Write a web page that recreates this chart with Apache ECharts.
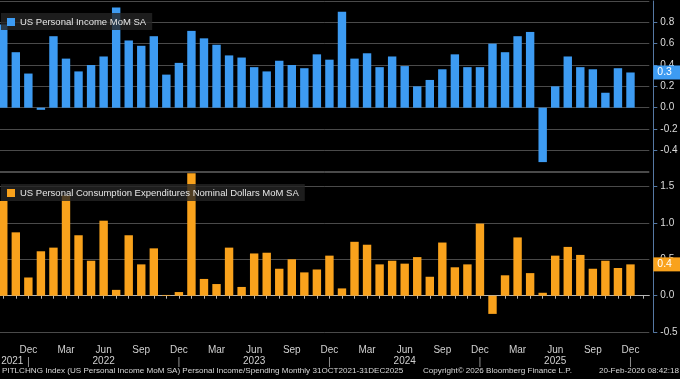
<!DOCTYPE html>
<html><head><meta charset="utf-8">
<script src="https://cdn.jsdelivr.net/npm/echarts@6/dist/echarts.min.js"></script>
<style>html,body{margin:0;padding:0;background:#000;}#c{width:680px;height:379px;}</style>
</head><body><div id="c"></div>
<script>
const categories = [
 '2021-10','2021-11','2021-12',
 '2022-01','2022-02','2022-03','2022-04','2022-05','2022-06','2022-07','2022-08','2022-09','2022-10','2022-11','2022-12',
 '2023-01','2023-02','2023-03','2023-04','2023-05','2023-06','2023-07','2023-08','2023-09','2023-10','2023-11','2023-12',
 '2024-01','2024-02','2024-03','2024-04','2024-05','2024-06','2024-07','2024-08','2024-09','2024-10','2024-11','2024-12',
 '2025-01','2025-02','2025-03','2025-04','2025-05','2025-06','2025-07','2025-08','2025-09','2025-10','2025-11','2025-12'
];
const incomeValues = [0.78,0.52,0.32,-0.02,0.67,0.46,0.34,0.40,0.48,0.94,0.63,0.58,0.67,0.31,0.42,0.72,0.65,0.59,0.49,0.47,0.38,0.34,0.44,0.40,0.37,0.50,0.45,0.90,0.46,0.51,0.38,0.48,0.39,0.20,0.26,0.36,0.50,0.38,0.38,0.60,0.52,0.67,0.71,-0.51,0.20,0.48,0.38,0.36,0.14,0.37,0.33];
const pceValues = [1.30,0.87,0.25,0.61,0.66,1.38,0.83,0.48,1.03,0.08,0.83,0.43,0.65,0.01,0.05,1.68,0.23,0.16,0.66,0.12,0.58,0.59,0.37,0.50,0.32,0.36,0.55,0.10,0.74,0.70,0.43,0.48,0.44,0.53,0.26,0.73,0.39,0.43,0.99,-0.25,0.28,0.80,0.31,0.04,0.55,0.67,0.56,0.37,0.48,0.38,0.43];
const monthTickLabels = {3:'Mar', 6:'Jun', 9:'Sep', 12:'Dec'};
const incomeName = 'US Personal Income MoM SA';
const pceName = 'US Personal Consumption Expenditures Nominal Dollars MoM SA';
const footerLeft = 'PITLCHNG Index (US Personal Income MoM SA) Personal Income/Spending Monthly 31OCT2021-31DEC2025';
const footerMid = 'Copyright\u00A9 2026 Bloomberg Finance L.P.';
const footerRight = '20-Feb-2026 08:42:18';

const FONT = '"Liberation Sans", Arial, sans-serif';
const BLUE = '#3d9bf2', ORANGE = '#f9a21c';
const gridColor = '#4a4a4a', axisBlue = '#5578a3';

function xLabel(value, index) {
  if (index >= categories.length) return '';
  const parts = categories[index].split('-');
  const y = parts[0], m = Number(parts[1]);
  if (index === 0) return '{m| }\n{p|' + y + '}';
  const name = monthTickLabels[m];
  if (!name) return '';
  if (m === 12) return '{m|' + name + '}\n{s||}';
  if (m === 6) return '{m|' + name + '}\n{y|' + y + '}';
  return '{m|' + name + '}';
}

const legendBase = {
  orient:'horizontal', icon:'rect', itemWidth:8, itemHeight:8, itemGap:0, itemTextGap:4,
  padding:[4,6,3,6], backgroundColor:'rgba(36,36,36,0.8)', selectedMode:false,
  textStyle:{color:'#e6e6e6', fontSize:9.5, fontFamily:FONT}
};
function tag(values, color) {
  const last = values[values.length-1];
  return {
    silent:true, symbol:['none','none'], animation:false,
    lineStyle:{color:'rgba(0,0,0,0)', width:0, type:'solid'},
    label:{show:true, position:'end', distance:4, formatter:last.toFixed(1),
      backgroundColor:color, color:'#fff', padding:[2,9,1,4], fontSize:10.5, fontFamily:FONT, opacity:1},
    data:[{yAxis:last}]
  };
}
const yLabel = {color:'#dcdcdc', fontSize:10, fontFamily:FONT, margin:7, formatter:v=>v.toFixed(1)};
const footStyle = {color:'#d8d8d8', fontSize:8.1, fontWeight:'normal', fontFamily:FONT};

const chart = echarts.init(document.getElementById('c'));
chart.setOption({
  backgroundColor:'#000',
  animation:false,
  textStyle:{fontFamily:FONT},
  title:[
    {text:footerLeft, left:2, top:367, padding:0, textStyle:footStyle},
    {text:footerMid, left:423, top:367, padding:0, textStyle:footStyle},
    {text:footerRight, right:1, top:367, padding:0, textStyle:footStyle}
  ],
  legend:[
    Object.assign({}, legendBase, {data:[incomeName], left:1, top:13}),
    Object.assign({}, legendBase, {data:[pceName], left:1, top:184})
  ],
  grid:[
    {left:-3, right:30.7, top:1, height:170.7, containLabel:false, outerBoundsMode:'none'},
    {left:-3, right:30.7, top:171.9, height:160.2, containLabel:false, outerBoundsMode:'none'}
  ],
  xAxis:[
    {type:'category', gridIndex:0, data:categories, max:categories.length, show:false},
    {type:'category', gridIndex:1, data:categories, max:categories.length, offset:8,
      axisLine:{show:true, lineStyle:{color:'#b5b5b5', width:1}},
      axisTick:{show:true, alignWithLabel:true, interval:0, length:3, lineStyle:{color:'#b5b5b5'}},
      axisLabel:{interval:0, formatter:xLabel, margin:5, color:'#d0d0d0', fontSize:10, lineHeight:11,
        rich:{
          m:{fontSize:10, lineHeight:11, color:'#d0d0d0', fontFamily:FONT},
          y:{fontSize:10, lineHeight:11, color:'#d0d0d0', fontFamily:FONT},
          p:{fontSize:10, lineHeight:11, color:'#d0d0d0', fontFamily:FONT, padding:[0,0,0,18]},
          s:{fontSize:11, lineHeight:11, color:'#9a9a9a', fontFamily:FONT}
        }},
      splitLine:{show:false}}
  ],
  yAxis:[
    {type:'value', gridIndex:0, position:'right', offset:4, min:-0.6, max:1.0, interval:0.2,
      axisLine:{show:true, lineStyle:{color:axisBlue}},
      axisTick:{show:true, length:4, lineStyle:{color:axisBlue}},
      axisLabel:Object.assign({showMinLabel:false, showMaxLabel:false}, yLabel),
      splitLine:{show:true, lineStyle:{color:gridColor, width:1}}},
    {type:'value', gridIndex:1, position:'right', offset:4, min:-0.5, max:1.7, interval:0.5,
      axisLine:{show:true, lineStyle:{color:axisBlue}},
      axisTick:{show:true, length:4, lineStyle:{color:axisBlue}},
      axisLabel:Object.assign({showMinLabel:true, showMaxLabel:false}, yLabel),
      splitLine:{show:true, lineStyle:{color:gridColor, width:1}}}
  ],
  series:[
    {name:incomeName, type:'bar', xAxisIndex:0, yAxisIndex:0, data:incomeValues,
      barCategoryGap:'33%', itemStyle:{color:BLUE}, markLine:tag(incomeValues, BLUE)},
    {name:pceName, type:'bar', xAxisIndex:1, yAxisIndex:1, data:pceValues,
      barCategoryGap:'33%', itemStyle:{color:ORANGE}, markLine:tag(pceValues, ORANGE)}
  ]
});
</script>
</body></html>
